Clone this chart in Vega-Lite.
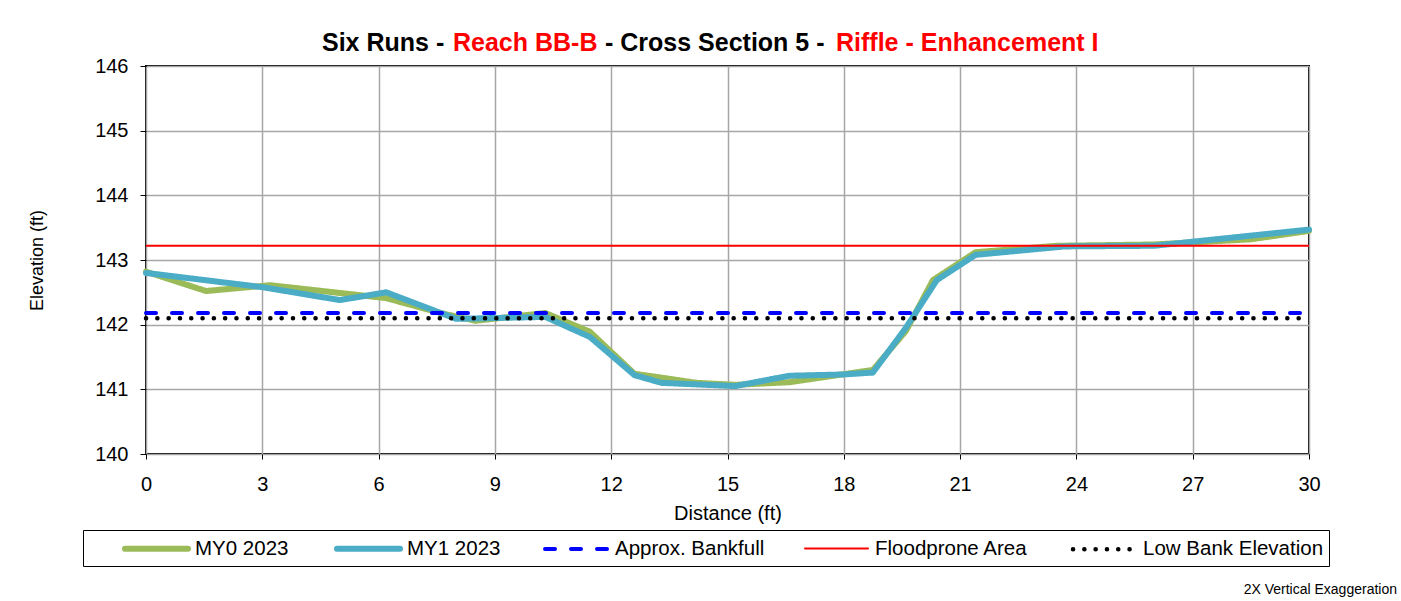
{
  "$schema": "https://vega.github.io/schema/vega-lite/v6.json",
  "width": 1163,
  "height": 388,
  "autosize": {"type": "none"},
  "padding": {"left": 146, "top": 66, "right": 92, "bottom": 147},
  "background": "white",
  "config": {
    "font": "Liberation Sans",
    "view": {"stroke": "black", "strokeWidth": 2}
  },
  "title": {
    "text": "2X Vertical Exaggeration",
    "orient": "bottom",
    "anchor": "end",
    "frame": "group",
    "fontSize": 14,
    "fontWeight": "normal",
    "color": "black",
    "dx": 88,
    "offset": 16
  },
  "layer": [
    {
      "data": {
        "values": [
          {"s": "MY0 2023", "x": 0, "y": 142.82},
          {"s": "MY0 2023", "x": 1.55, "y": 142.52},
          {"s": "MY0 2023", "x": 3.2, "y": 142.61},
          {"s": "MY0 2023", "x": 6.2, "y": 142.41},
          {"s": "MY0 2023", "x": 7.6, "y": 142.18},
          {"s": "MY0 2023", "x": 8.5, "y": 142.06},
          {"s": "MY0 2023", "x": 10.3, "y": 142.18},
          {"s": "MY0 2023", "x": 11.45, "y": 141.89},
          {"s": "MY0 2023", "x": 12.6, "y": 141.24},
          {"s": "MY0 2023", "x": 13.3, "y": 141.18},
          {"s": "MY0 2023", "x": 14.2, "y": 141.1},
          {"s": "MY0 2023", "x": 15.2, "y": 141.07},
          {"s": "MY0 2023", "x": 16.6, "y": 141.11},
          {"s": "MY0 2023", "x": 18.75, "y": 141.3},
          {"s": "MY0 2023", "x": 19.6, "y": 141.9},
          {"s": "MY0 2023", "x": 20.3, "y": 142.69},
          {"s": "MY0 2023", "x": 21.4, "y": 143.12},
          {"s": "MY0 2023", "x": 23.5, "y": 143.22},
          {"s": "MY0 2023", "x": 26.0, "y": 143.24},
          {"s": "MY0 2023", "x": 28.5, "y": 143.32},
          {"s": "MY0 2023", "x": 30, "y": 143.45},
          {"s": "MY1 2023", "x": 0, "y": 142.8},
          {"s": "MY1 2023", "x": 3.0, "y": 142.58},
          {"s": "MY1 2023", "x": 5.0, "y": 142.38},
          {"s": "MY1 2023", "x": 6.2, "y": 142.5},
          {"s": "MY1 2023", "x": 8.0, "y": 142.09},
          {"s": "MY1 2023", "x": 10.3, "y": 142.12},
          {"s": "MY1 2023", "x": 11.45, "y": 141.81},
          {"s": "MY1 2023", "x": 12.6, "y": 141.22},
          {"s": "MY1 2023", "x": 13.3, "y": 141.1},
          {"s": "MY1 2023", "x": 15.2, "y": 141.05},
          {"s": "MY1 2023", "x": 16.6, "y": 141.21},
          {"s": "MY1 2023", "x": 18.0, "y": 141.23},
          {"s": "MY1 2023", "x": 18.75, "y": 141.26},
          {"s": "MY1 2023", "x": 19.6, "y": 141.95},
          {"s": "MY1 2023", "x": 20.4, "y": 142.69},
          {"s": "MY1 2023", "x": 21.4, "y": 143.08},
          {"s": "MY1 2023", "x": 23.7, "y": 143.21},
          {"s": "MY1 2023", "x": 26.0, "y": 143.22},
          {"s": "MY1 2023", "x": 30, "y": 143.47},
          {"s": "Approx. Bankfull", "x": 0, "y": 142.18},
          {"s": "Approx. Bankfull", "x": 30, "y": 142.18},
          {"s": "Floodprone Area", "x": 0, "y": 143.22},
          {"s": "Floodprone Area", "x": 30, "y": 143.22},
          {"s": "Low Bank Elevation", "x": 0, "y": 142.1},
          {"s": "Low Bank Elevation", "x": 30, "y": 142.1}
        ]
      },
      "encoding": {
        "x": {
          "field": "x",
          "type": "quantitative",
          "scale": {"domain": [0, 30], "nice": false, "zero": false},
          "axis": {
            "values": [0, 3, 6, 9, 12, 15, 18, 21, 24, 27, 30],
            "title": "Distance (ft)",
            "titleFontSize": 20,
            "titleFontWeight": "normal",
            "titleColor": "black",
            "titlePadding": 9,
            "labelFontSize": 20,
            "labelColor": "black",
            "labelFlush": false,
            "labelPadding": 15,
            "tickSize": 5,
            "tickColor": "black",
            "domain": false,
            "grid": true,
            "gridColor": "#a6a6a6",
            "gridWidth": 1.5
          }
        },
        "y": {
          "field": "y",
          "type": "quantitative",
          "scale": {"domain": [140, 146], "nice": false, "zero": false},
          "axis": {
            "values": [140, 141, 142, 143, 144, 145, 146],
            "title": "Elevation (ft)",
            "titleFontSize": 18,
            "titleFontWeight": "normal",
            "titleColor": "black",
            "titlePadding": 48,
            "labelFontSize": 20,
            "labelColor": "black",
            "labelPadding": 12,
            "tickSize": 6,
            "tickColor": "black",
            "domain": false,
            "grid": true,
            "gridColor": "#a6a6a6",
            "gridWidth": 1.5
          }
        },
        "color": {
          "field": "s",
          "type": "nominal",
          "scale": {
            "domain": ["MY0 2023", "MY1 2023", "Approx. Bankfull", "Floodprone Area", "Low Bank Elevation"],
            "range": ["#9BBB59", "#4BACC6", "#0000FF", "#FF0000", "#000000"]
          },
          "legend": {
            "orient": "none",
            "legendX": -63,
            "legendY": 464,
            "direction": "horizontal",
            "columns": 5,
            "title": "\u00a0",
            "titleOrient": "left",
            "titleFontSize": 10,
            "titlePadding": 34,
            "symbolType": "M-1,0H5",
            "symbolSize": 441,
            "labelFontSize": 20.5,
            "labelColor": "black",
            "labelOffset": 46,
            "columnPadding": 36,
            "padding": 5,
            "strokeColor": "black",
            "labelLimit": 400,
            "encode": {
              "symbols": {
                "enter": {"strokeCap": {"value": "round"}},
                "update": {"strokeCap": {"value": "round"}}
              }
            }
          }
        },
        "strokeDash": {
          "field": "s",
          "type": "nominal",
          "scale": {
            "domain": ["MY0 2023", "MY1 2023", "Approx. Bankfull", "Floodprone Area", "Low Bank Elevation"],
            "range": [[1, 0], [1, 0], [10, 16], [1, 0], [0.1, 11.2]]
          }
        },
        "strokeWidth": {
          "field": "s",
          "type": "nominal",
          "scale": {
            "type": "ordinal",
            "domain": ["MY0 2023", "MY1 2023", "Approx. Bankfull", "Floodprone Area", "Low Bank Elevation"],
            "range": [6, 6, 4, 2, 4.5]
          }
        }
      },
      "layer": [
        {"transform": [{"filter": "datum.s == 'MY0 2023'"}], "mark": {"type": "line", "strokeCap": "round", "strokeJoin": "round"}},
        {"transform": [{"filter": "datum.s == 'MY1 2023'"}], "mark": {"type": "line", "strokeCap": "round", "strokeJoin": "round"}},
        {"transform": [{"filter": "datum.s == 'Approx. Bankfull'"}], "mark": {"type": "line", "strokeCap": "round"}},
        {"transform": [{"filter": "datum.s == 'Floodprone Area'"}], "mark": {"type": "line"}},
        {"transform": [{"filter": "datum.s == 'Low Bank Elevation'"}], "mark": {"type": "line", "strokeCap": "round"}}
      ]
    },
    {
      "data": {"values": [{"t": "Six Runs -"}]},
      "mark": {"type": "text", "align": "left", "baseline": "alphabetic", "fontSize": 25, "fontWeight": "bold", "color": "black"},
      "encoding": {"text": {"field": "t"}, "x": {"value": 176}, "y": {"value": -15}}
    },
    {
      "data": {"values": [{"t": "Reach BB-B"}]},
      "mark": {"type": "text", "align": "left", "baseline": "alphabetic", "fontSize": 25, "fontWeight": "bold", "color": "#FF0000"},
      "encoding": {"text": {"field": "t"}, "x": {"value": 307}, "y": {"value": -15}}
    },
    {
      "data": {"values": [{"t": "- Cross Section 5 -"}]},
      "mark": {"type": "text", "align": "left", "baseline": "alphabetic", "fontSize": 25, "fontWeight": "bold", "color": "black"},
      "encoding": {"text": {"field": "t"}, "x": {"value": 459}, "y": {"value": -15}}
    },
    {
      "data": {"values": [{"t": "Riffle - Enhancement I"}]},
      "mark": {"type": "text", "align": "left", "baseline": "alphabetic", "fontSize": 25, "fontWeight": "bold", "color": "#FF0000"},
      "encoding": {"text": {"field": "t"}, "x": {"value": 690}, "y": {"value": -15}}
    }
  ]
}
